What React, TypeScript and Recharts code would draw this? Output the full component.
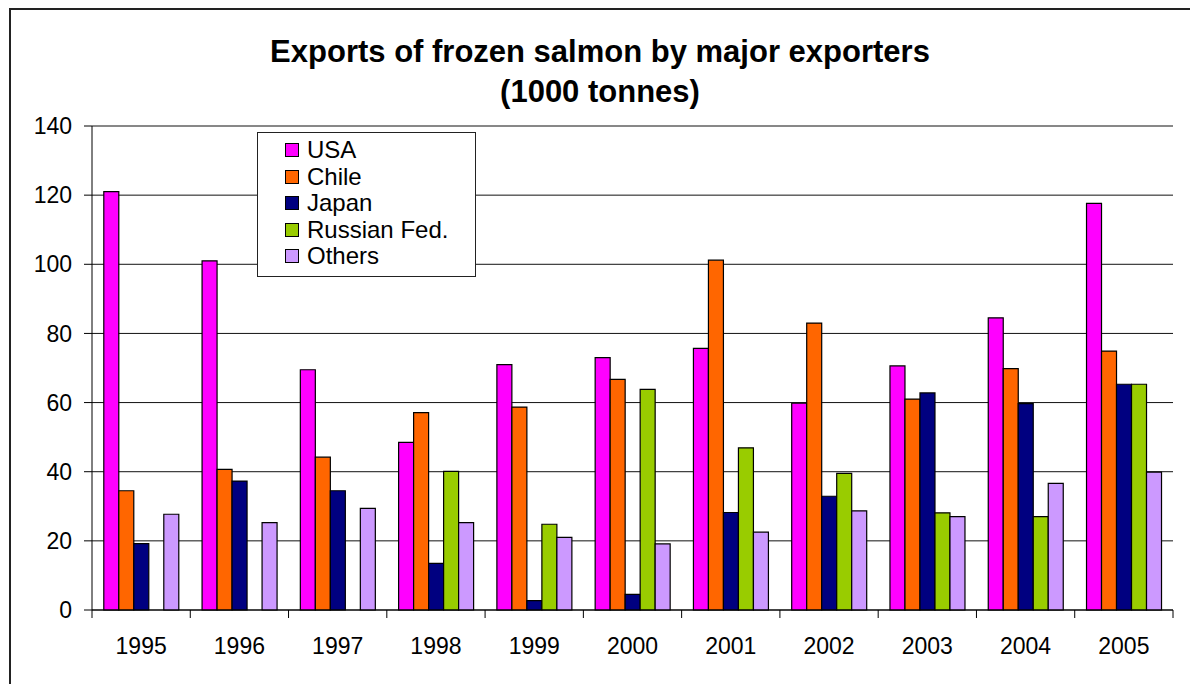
import React from "react";
import { BarChart, Bar, XAxis, YAxis, CartesianGrid, Legend } from "recharts";

const years = ["1995", "1996", "1997", "1998", "1999", "2000", "2001", "2002", "2003", "2004", "2005"];
const usa = [121, 101, 69.5, 48.5, 71, 73, 75.7, 59.8, 70.6, 84.5, 117.6];
const chile = [34.5, 40.7, 44.2, 57.1, 58.7, 66.7, 101.2, 83, 61, 69.8, 74.9];
const japan = [19.2, 37.3, 34.5, 13.5, 2.7, 4.5, 28.2, 32.9, 62.8, 59.7, 65.3];
const russia = [null, null, null, 40.1, 24.8, 63.8, 46.9, 39.5, 28.1, 27, 65.3];
const others = [27.7, 25.3, 29.4, 25.3, 21, 19.1, 22.5, 28.7, 27, 36.6, 39.9];
const yTicks = [0, 20, 40, 60, 80, 100, 120, 140];

const series = [
  { key: "usa", name: "USA", color: "#FF00FF" },
  { key: "chile", name: "Chile", color: "#FF6600" },
  { key: "japan", name: "Japan", color: "#000080" },
  { key: "russia", name: "Russian Fed.", color: "#99CC00" },
  { key: "others", name: "Others", color: "#CC99FF" },
];

const data = years.map((year, i) => ({
  year,
  usa: usa[i],
  chile: chile[i],
  japan: japan[i],
  russia: russia[i],
  others: others[i],
}));

const FONT = "'Liberation Sans', Arial, sans-serif";

// year label in the middle of the band, tick marks on the band edges
function YearTick(props: any) {
  const { x, y, payload, index } = props;
  const half = payload && payload.offset ? payload.offset : 0;
  return (
    <g>
      <line x1={x - half} x2={x - half} y1={y} y2={y + 8} stroke="#000" />
      {index === years.length - 1 && (
        <line x1={x + half} x2={x + half} y1={y} y2={y + 8} stroke="#000" />
      )}
      <text x={x} y={y + 28} dy="0.71em" textAnchor="middle" fontSize={23} fill="#000" fontFamily={FONT}>
        {payload.value}
      </text>
    </g>
  );
}

function LegendBox() {
  return (
    <div
      style={{
        width: 219,
        height: 145,
        border: "1.5px solid #222",
        background: "#fff",
        boxSizing: "border-box",
        paddingTop: 4,
        paddingLeft: 27,
        fontFamily: FONT,
        fontSize: 24,
        color: "#000",
      }}
    >
      {series.map((s) => (
        <div key={s.key} style={{ display: "flex", alignItems: "center", height: 26.5 }}>
          <span
            style={{
              display: "inline-block",
              width: 12,
              height: 12,
              background: s.color,
              border: "1.5px solid #000",
              marginRight: 8,
            }}
          />
          <span>{s.name}</span>
        </div>
      ))}
    </div>
  );
}

export default function App() {
  return (
    <div
      style={{
        position: "absolute",
        left: 0,
        top: 0,
        width: 1190,
        height: 684,
        overflow: "hidden",
        background: "#fff",
      }}
    >
      <div
        style={{
          position: "absolute",
          left: 9,
          top: 8,
          width: 2000,
          height: 2000,
          border: "2px solid #222",
        }}
      />
      <BarChart
        width={1190}
        height={684}
        data={data}
        margin={{ top: 126, right: 17, bottom: 0, left: 0 }}
        barCategoryGap="12%"
        barGap={0}
      >
        <CartesianGrid vertical={false} stroke="#111" />
        <XAxis
          dataKey="year"
          height={74}
          tickLine={false}
          tickSize={0}
          tickMargin={0}
          axisLine={{ stroke: "#000" }}
          tick={<YearTick />}
          interval={0}
        />
        <YAxis
          width={92}
          domain={[0, 140]}
          ticks={yTicks}
          interval={0}
          tickSize={8}
          tickMargin={12}
          tickLine={{ stroke: "#000" }}
          axisLine={{ stroke: "#000" }}
          tick={{ fontSize: 23, fill: "#000", fontFamily: FONT }}
        />
        <Legend
          layout="vertical"
          align="center"
          verticalAlign="middle"
          content={<LegendBox />}
          wrapperStyle={{ position: "absolute", left: 257, top: 132, width: 219 }}
        />
        {series.map((s) => (
          <Bar
            key={s.key}
            dataKey={s.key}
            name={s.name}
            fill={s.color}
            stroke="#000"
            strokeWidth={1.2}
            isAnimationActive={false}
          />
        ))}
      </BarChart>
      <div
        style={{
          position: "absolute",
          left: 0,
          top: 32,
          width: 1200,
          textAlign: "center",
          fontFamily: FONT,
          fontWeight: "bold",
          fontSize: 31,
          lineHeight: "40px",
          color: "#000",
        }}
      >
        Exports of frozen salmon by major exporters
        <br />
        (1000 tonnes)
      </div>
    </div>
  );
}
